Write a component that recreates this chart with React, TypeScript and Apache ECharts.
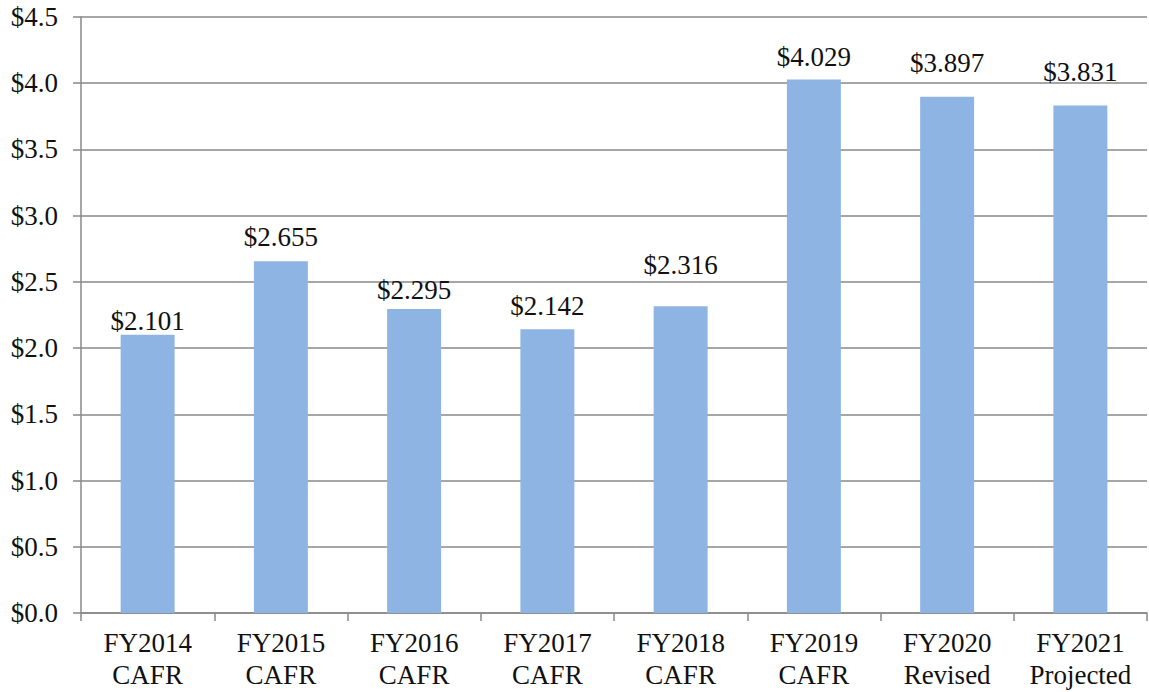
import React, { useEffect, useRef } from "react";
import * as echarts from "echarts";

const categories = [
  "FY2014\nCAFR",
  "FY2015\nCAFR",
  "FY2016\nCAFR",
  "FY2017\nCAFR",
  "FY2018\nCAFR",
  "FY2019\nCAFR",
  "FY2020\nRevised",
  "FY2021\nProjected",
];
const values = [2.101, 2.655, 2.295, 2.142, 2.316, 4.029, 3.897, 3.831];
const yMin = 0;
const yMax = 4.5;
const yInterval = 0.5;
// per-label gap above bar (styling, mirrors the reference's manual label placement)
const labelGaps = [0, 11, 6, 10, 28, 9, 20, 20];

export default function App() {
  const ref = useRef<HTMLDivElement>(null);
  useEffect(() => {
    if (!ref.current) return;
    const chart = echarts.init(ref.current, undefined, { renderer: "svg" });
    const font = "'Liberation Serif', 'Times New Roman', serif";
    chart.setOption({
      animation: false,
      grid: { left: 81, right: 2, top: 17, bottom: 79, containLabel: false },
      xAxis: {
        type: "category",
        data: categories,
        axisLine: { show: true, lineStyle: { color: "#888888", width: 1.5 } },
        axisTick: { show: true, alignWithLabel: false, length: 8, lineStyle: { color: "#888888", width: 1.5 } },
        axisLabel: {
          color: "#111111",
          fontFamily: font,
          fontSize: 27,
          lineHeight: 32,
          margin: 14,
          interval: 0,
        },
      },
      yAxis: {
        type: "value",
        min: yMin,
        max: yMax,
        interval: yInterval,
        axisLine: { show: true, lineStyle: { color: "#888888", width: 1.5 } },
        axisTick: { show: true, length: 8, lineStyle: { color: "#888888", width: 1.5 } },
        splitLine: { show: true, lineStyle: { color: "#888888", width: 1.5 } },
        axisLabel: {
          color: "#111111",
          fontFamily: font,
          fontSize: 27,
          margin: 23,
          formatter: (v: number) => "$" + v.toFixed(1),
        },
      },
      series: [
        {
          type: "bar",
          data: values.map((v, i) => ({
            value: v,
            label: { distance: labelGaps[i] },
          })),
          barWidth: "40.5%",
          itemStyle: { color: "#8EB4E3" },
          label: {
            show: true,
            position: "top",
            color: "#111111",
            fontFamily: font,
            fontSize: 27,
            formatter: (p: any) => "$" + Number(p.value).toFixed(3),
          },
        },
      ],
    });
    return () => chart.dispose();
  }, []);
  return (
    <div
      ref={ref}
      style={{ position: "fixed", left: 0, top: 0, width: 1149, height: 692, background: "#ffffff" }}
    />
  );
}
